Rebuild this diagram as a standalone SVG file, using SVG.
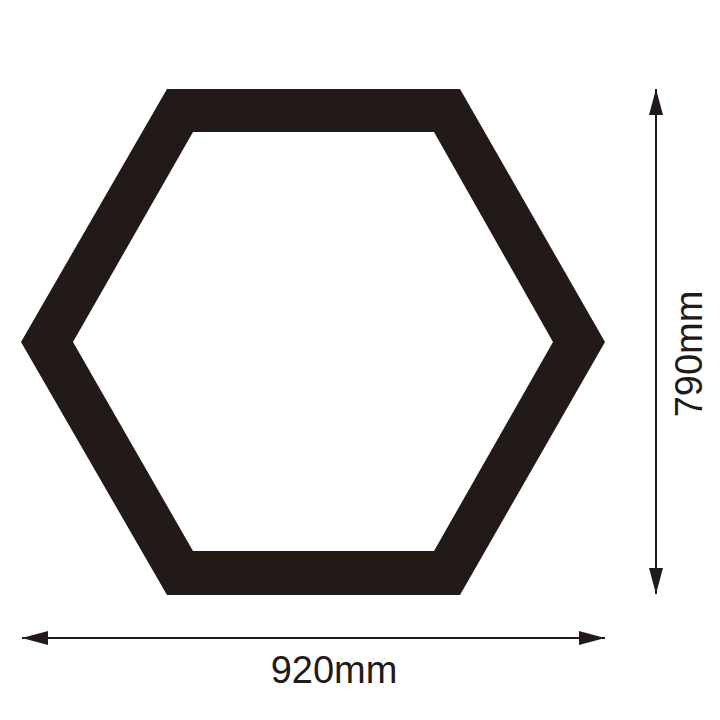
<svg xmlns="http://www.w3.org/2000/svg" width="720" height="720" viewBox="0 0 720 720">
<style>
.shape{fill:#211a17;fill-rule:evenodd}
.dim{stroke:#211a17;stroke-width:2;fill:none}
.lbl{font-family:"Liberation Sans",Arial,sans-serif;font-size:38px;fill:#211a17}
</style>
<defs>
<marker id="ah" viewBox="0 0 26 14" refX="26" refY="7" markerWidth="26" markerHeight="14" markerUnits="userSpaceOnUse" orient="auto-start-reverse">
<path d="M0,0 L26,7 L0,14 Z" fill="#211a17"/>
</marker>
</defs>
<rect width="720" height="720" fill="#ffffff"/>
<g id="hexagon">
<path class="shape" d="M167,89 L460,89 L605,342 L460,595 L167,595 L21,342 Z M193,132 L434,132 L553,342 L434,551 L193,551 L73,342 Z"/>
</g>
<g id="connectors">
<line class="dim" x1="22" y1="638" x2="605" y2="638" marker-start="url(#ah)" marker-end="url(#ah)"/>
<line class="dim" x1="656" y1="89" x2="656" y2="594" marker-start="url(#ah)" marker-end="url(#ah)"/>
</g>
<g id="width-label">
<text class="lbl" x="334" y="683" text-anchor="middle">920mm</text>
</g>
<g id="height-label">
<text class="lbl" transform="translate(702,354) rotate(-90)" text-anchor="middle">790mm</text>
</g>
</svg>
